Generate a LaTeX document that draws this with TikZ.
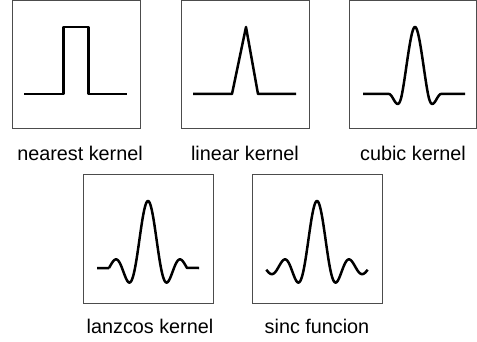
\documentclass[tikz,border=0pt]{standalone}
\usepackage{fontspec}
\setmainfont{Liberation Sans}
\begin{document}
\begin{tikzpicture}[x=1pt,y=-1pt,
  frame/.style={draw=black!70,line width=0.9pt},
  kurve/.style={line width=2.5pt,line join=round,line cap=butt},
  lbl/.style={anchor=base,inner sep=0pt,font=\fontsize{19.8}{22}\selectfont},
  declare function={sincf(\t)=sin(180*\t)/(pi*\t);}]
\useasboundingbox (0,0) rectangle (477,342);
% frames
\draw[frame] (12.5,0.5) rectangle (140,128) coordinate (f1);
\draw[frame] (181,0.5) rectangle (309,128) coordinate (f2);
\draw[frame] (349,0.5) rectangle (476.5,128) coordinate (f3);
\draw[frame] (83,174) rectangle (213,303) coordinate (f4);
\draw[frame] (252,174) rectangle (382,303) coordinate (f5);
% nearest
\draw[kurve] (24,94) -- (63.5,94) -- (63.5,27) -- (88.5,27) -- (88.5,94) -- (127,94);
% linear
\draw[kurve] (193,94) -- (232,94) -- (246,27) -- (258,94) -- (296,94);
% cubic (a=-1)
\draw[kurve] (363,94) -- (389,94)
  plot[domain=-2:-1,samples=40] ({415+13*\x},{94-67*(\x+1)*(\x+2)*(\x+2)})
  -- plot[domain=-1:1,samples=80] ({415+13*\x},{94-67*(abs(\x)^3-2*\x*\x+1)})
  -- plot[domain=1:2,samples=40] ({415+13*\x},{94+67*(\x-1)*(\x-2)*(\x-2)})
  -- (465,94);
% lanczos
\draw[kurve] (97,268) -- (109,268)
  plot[domain=-3:3,samples=300] ({148+13*\x},{268-67*sincf(\x)})
  -- (199,268);
% sinc
\draw[kurve] plot[domain=-3.9:3.9,samples=300] ({317+13*\x},{268-67*sincf(\x)});
% labels
\node[lbl] (l1) at (80,161) {nearest kernel};
\node[lbl] (l2) at (245,161) {linear kernel};
\node[lbl] (l3) at (413,161) {cubic kernel};
\node[lbl] (l4) at (150,333) {lanzcos kernel};
\node[lbl] (l5) at (317,333) {sinc funcion};
\end{tikzpicture}
\end{document}
